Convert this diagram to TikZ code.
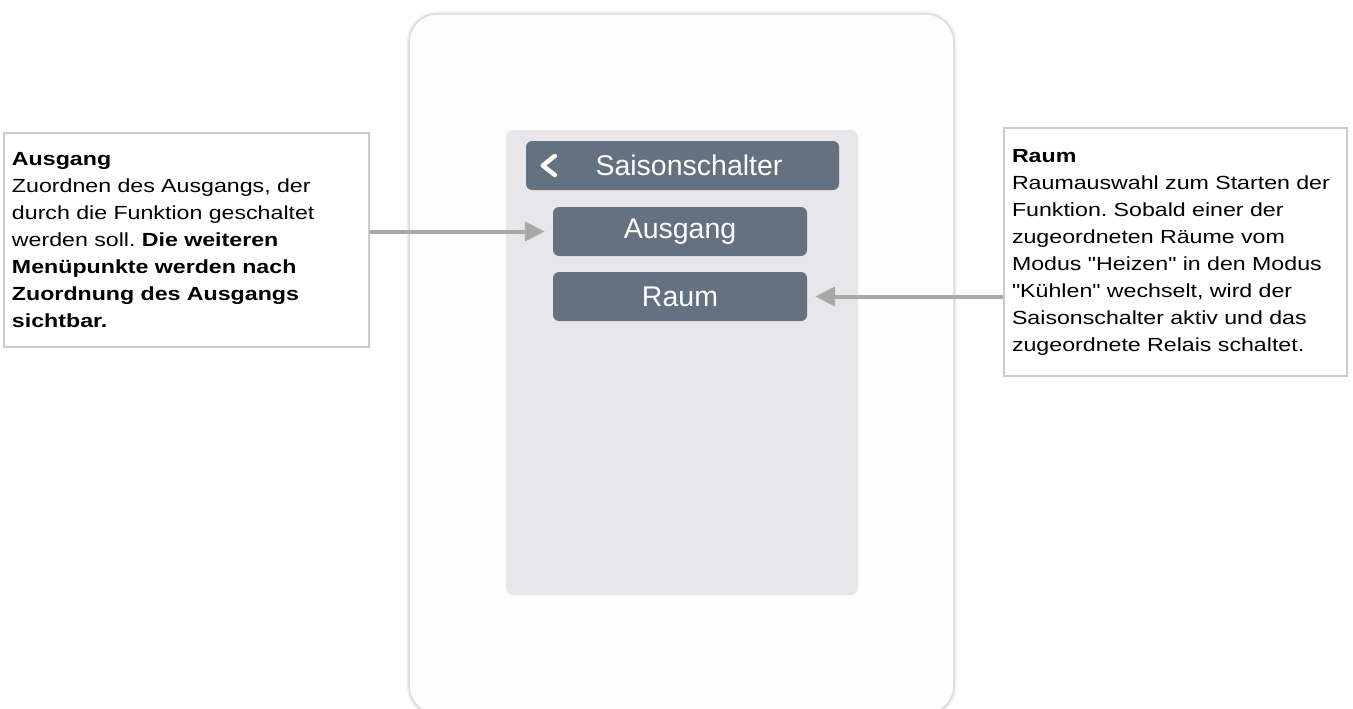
\documentclass[tikz,border=0pt]{standalone}
\usepackage{fontspec}
\setmainfont{Liberation Sans}
\newfontfamily\notefont{Liberation Sans}[FakeStretch=1.22]
\usepackage{tikz}
\usetikzlibrary{arrows.meta}
\usetikzlibrary{positioning}
\definecolor{slate}{HTML}{637181}
\definecolor{screengray}{HTML}{E7E7E9}
\definecolor{arrowgray}{HTML}{A8A8A8}
\definecolor{noteline}{HTML}{CACACA}
\definecolor{devicewhite}{HTML}{FDFDFD}

\begin{document}
\begin{tikzpicture}[x=1pt,y=-1pt,node distance=65pt,on grid,
		button/.style={fill=slate,rounded corners=6pt,text=white,inner sep=0pt,
			minimum width=254pt,minimum height=49pt,font=\fontsize{28.5}{30}\selectfont},
		note/.style={draw=noteline,line width=1.5pt,fill=white,align=left,
			inner xsep=8pt,font=\notefont\fontsize{19}{27}\selectfont\frenchspacing},
		pointer/.style={draw=arrowgray,line width=4pt,shorten >=8pt,
			-{Triangle[length=20pt,width=19pt,fill=arrowgray]}}]
			\useasboundingbox (0,0) rectangle (1353,709);
			% Geraet und Display
			\draw[black!6,line width=5pt,rounded corners=28pt] (409,14) rectangle (954,714);
			\draw[black!14,line width=1.5pt,fill=devicewhite,rounded corners=28pt] (409,14) rectangle (954,714);
			\fill[screengray,rounded corners=7pt] (506,130) rectangle (858,595);
			\node[button,minimum width=313pt] (hdr) at (682.5,165.5) {\hspace{13pt}Saisonschalter};
			\node[button] (b_1) [below=66pt of hdr,xshift=-2.5pt] {Ausgang};
			\node[button] (b_2) [below=of b_1] {Raum};
			\draw[white,line width=4.5pt,line cap=round,line join=round]
			([shift={(29,-9.5)}]hdr.west) -- ([shift={(17,0)}]hdr.west) -- ([shift={(29,9.5)}]hdr.west);
			% Hinweise
			\node[note,text width=349pt,minimum height=214pt] (n_1) at (186.5,240)
			{\textbf{Ausgang}\\Zuordnen des Ausgangs, der\\durch die Funktion geschaltet\\werden soll. \textbf{Die weiteren}\\\textbf{Menüpunkte werden nach}\\\textbf{Zuordnung des Ausgangs}\\\textbf{sichtbar.}};
			\node[note,text width=327pt,minimum height=248pt] (n_2) at (1175.5,252)
			{\textbf{Raum}\\Raumauswahl zum Starten der\\Funktion. Sobald einer der\\zugeordneten Räume vom\\Modus "Heizen" in den Modus\\"Kühlen" wechselt, wird der\\Saisonschalter aktiv und das\\zugeordnete Relais schaltet.};
			\draw[pointer] (n_1.east |- b_1) -- (b_1.west);
			\draw[pointer] (n_2.west |- b_2) -- (b_2.east);
		\end{tikzpicture}
\end{document}
